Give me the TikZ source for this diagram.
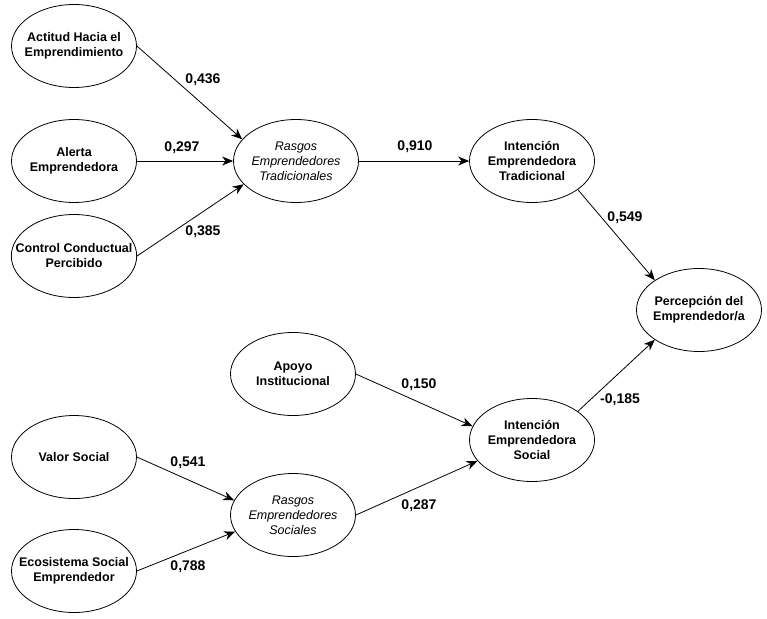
\documentclass[tikz,border=0pt]{standalone}
\usepackage{fontspec}
\setmainfont{Liberation Sans}
\usetikzlibrary{arrows.meta,shapes.geometric}

\tikzset{
	latent/.style={ellipse,draw,line width=0.8pt,minimum width=125pt,minimum height=83pt,inner xsep=-14pt,inner ysep=0pt,align=center,font=\fontsize{12.5}{15}\selectfont\bfseries},
	rasgos/.style={latent,font=\fontsize{12.5}{15}\selectfont\itshape},
	link/.style={-{Stealth[length=11pt,width=9pt,inset=3.5pt]},line width=0.8pt},
	coef/.style={font=\fontsize{14}{16}\selectfont\bfseries,inner sep=1pt}
}

\begin{document}
\begin{tikzpicture}[x=1pt,y=-1pt]
	\useasboundingbox (0,0) rectangle (767,618);
	% constructs
	\node[latent] (act) at (74,46) {Actitud Hacia el\\Emprendimiento};
	\node[latent] (ale) at (74,161) {Alerta\\Emprendedora};
	\node[latent] (ctl) at (74,256) {Control Conductual\\Percibido};
	\node[rasgos] (rt) at (296,161) {Rasgos\\Emprendedores\\Tradicionales};
	\node[latent] (it) at (532,161) {Intención\\Emprendedora\\Tradicional};
	\node[latent] (per) at (699,310) {Percepción del\\Emprendedor/a};
	\node[latent] (apo) at (293,374) {Apoyo\\Institucional};
	\node[latent] (is) at (532,440) {Intención\\Emprendedora\\Social};
	\node[latent] (val) at (74,457) {Valor Social};
	\node[rasgos] (rs) at (293,515) {Rasgos\\Emprendedores\\Sociales};
	\node[latent] (eco) at (74,571) {Ecosistema Social\\Emprendedor};
	% paths
	\draw[link] (act.east) -- (rt.158);
	\draw[link] (ale.east) -- (rt.west);
	\draw[link] (ctl.east) -- (rt.204);
	\draw[link] (rt.east) -- (it.west);
	\draw[link] (it.-32) -- (per.146);
	\draw[link] (is.32) -- (per.214);
	\draw[link] (apo.east) -- (is.167);
	\draw[link] (rs.east) -- (is.201);
	\draw[link] (val.east) -- (rs.166);
	\draw[link] (eco.east) -- (rs.196);
	% coefficients
	\node[coef] (c1) at (203,80) {0,436};
	\node[coef] (c2) at (182,148) {0,297};
	\node[coef] (c3) at (203,232) {0,385};
	\node[coef] (c4) at (415,147) {0,910};
	\node[coef] (c5) at (625,218) {0,549};
	\node[coef] (c6) at (620,400) {-0,185};
	\node[coef] (c7) at (419,385) {0,150};
	\node[coef] (c8) at (188,463) {0,541};
	\node[coef] (c9) at (188,567) {0,788};
	\node[coef] (c10) at (419,506) {0,287};
\end{tikzpicture}
\end{document}
